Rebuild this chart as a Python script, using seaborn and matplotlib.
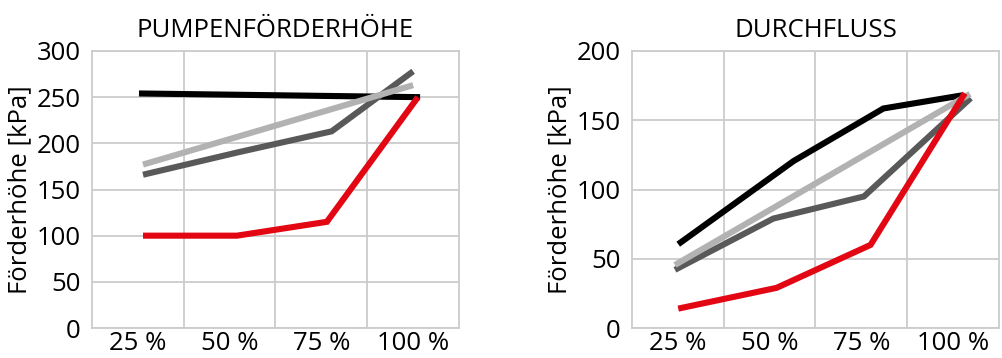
import matplotlib
matplotlib.use("Agg")
import matplotlib.pyplot as plt
import seaborn as sns
import pandas as pd

# x positions in percent (measured curves, not exactly on the categories)
titles = ["PUMPENFÖRDERHÖHE", "DURCHFLUSS"]
tick_pos = [25, 50, 75, 100]
tick_labels = ["25 %", "50 %", "75 %", "100 %"]
y_label = "Förderhöhe [kPa]"

# left panel: Pumpenförderhöhe
head_black_x = [25.3, 101.9]
head_black_y = [254, 250]
head_dark_x = [26.4, 52, 77.8, 100]
head_dark_y = [166, 190, 213, 278]
head_light_x = [26.4, 100]
head_light_y = [177, 263]
head_red_x = [26.4, 52, 76.5, 101.3]
head_red_y = [100, 100, 115, 250]

# right panel: Durchfluss
flow_black_x = [25.1, 51, 56.5, 81, 102.5]
flow_black_y = [60.5, 110, 120.5, 158.5, 168]
flow_dark_x = [24.2, 51, 75.7, 104.8]
flow_dark_y = [42, 79, 95, 166]
flow_light_x = [24.2, 104.6]
flow_light_y = [45.5, 169]
flow_red_x = [25.1, 51.9, 77.5, 103.2]
flow_red_y = [14, 29, 60, 169.5]

colors = {"black": "#000000", "dark": "#595959", "light": "#b2b2b2", "red": "#e30613"}

sns.set_theme(style="white")
plt.rcParams["font.family"] = ["Open Sans", "DejaVu Sans"]
plt.rcParams["text.color"] = "black"

fig = plt.figure(figsize=(10.03, 3.58), dpi=100)
ax1 = fig.add_axes([92 / 1003, 30 / 358, 367 / 1003, 277 / 358])
ax2 = fig.add_axes([632 / 1003, 30 / 358, 367 / 1003, 277 / 358])

panels = [
    (ax1, titles[0], 300, [
        ("black", head_black_x, head_black_y),
        ("dark", head_dark_x, head_dark_y),
        ("light", head_light_x, head_light_y),
        ("red", head_red_x, head_red_y),
    ]),
    (ax2, titles[1], 200, [
        ("black", flow_black_x, flow_black_y),
        ("dark", flow_dark_x, flow_dark_y),
        ("light", flow_light_x, flow_light_y),
        ("red", flow_red_x, flow_red_y),
    ]),
]

for ax, title, ymax, series in panels:
    for name, xs, ys in series:
        df = pd.DataFrame({"x": xs, "y": ys})
        sns.lineplot(data=df, x="x", y="y", ax=ax, color=colors[name],
                     linewidth=4.4, sort=False, estimator=None,
                     solid_capstyle="butt", solid_joinstyle="miter")

    ax.set_xlim(12.5, 112.5)
    ax.set_ylim(0, ymax)
    ax.set_xticks(tick_pos)
    ax.set_xticklabels(tick_labels)
    ax.set_xticks([37.5, 62.5, 87.5], minor=True)
    ax.set_yticks(range(0, ymax + 1, 50))
    ax.grid(False)
    ax.grid(True, which="minor", axis="x", color="#cccccc", linewidth=1.3)
    ax.grid(True, which="major", axis="y", color="#cccccc", linewidth=1.3)
    ax.set_axisbelow(True)
    for s in ax.spines.values():
        s.set_color("#cccccc")
        s.set_linewidth(1.3)
    ax.tick_params(axis="both", which="both", length=0, labelsize=18.5,
                   colors="black")
    ax.tick_params(axis="y", pad=8)
    ax.tick_params(axis="x", pad=2)
    ax.set_xlabel("")
    ax.set_ylabel(y_label, fontsize=18.5, labelpad=3, color="black")
    ax.set_title(title, fontsize=18.5, pad=10, color="black")

fig.savefig("out.png", dpi=100)
